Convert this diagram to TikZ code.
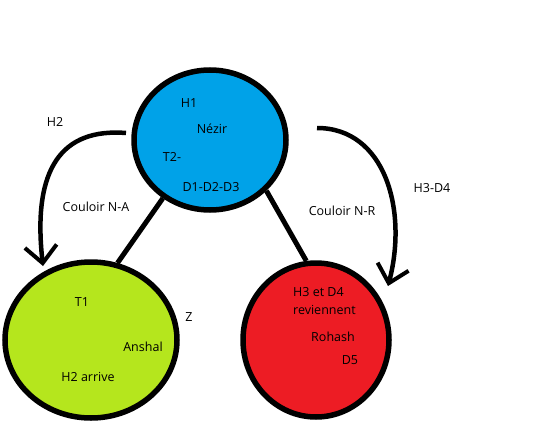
\documentclass[tikz,border=0pt]{standalone}
\usepackage{fontspec}
\setmainfont{Open Sans}
\usetikzlibrary{shapes.geometric,arrows.meta}
\definecolor{pblue}{RGB}{0,162,232}
\definecolor{pgreen}{RGB}{181,230,29}
\definecolor{pred}{RGB}{237,28,36}
\begin{document}
\begin{tikzpicture}[x=1pt,y=-1pt,
  blob/.style={ellipse,draw=black,line width=5.5pt,inner sep=0pt},
  lbl/.style={font=\fontsize{12.5}{14}\selectfont,inner sep=0pt,text=black},
  link/.style={line width=5pt,draw=black},
  arr/.style={line width=4.5pt,draw=black,-{Straight Barb[length=17pt,width=32pt,line width=4pt]}}]
\useasboundingbox[fill=white] (0,0) rectangle (543,428);
% circles
\node[blob,fill=pblue,minimum width=152pt,minimum height=140pt] (nezir) at (210,140) {};
\node[blob,fill=pgreen,minimum width=172pt,minimum height=156pt] (anshal) at (91,340) {};
\node[blob,fill=pred,minimum width=146pt,minimum height=154pt] (rohash) at (316,340) {};
% connecting lines
\draw[link] (nezir.231) -- (anshal.71);
\draw[link] (nezir.318) -- (rohash.97);
% curved arrows
\coordinate (la) at (126,133);
\coordinate (lb) at (43,266);
\coordinate (ra) at (317,128);
\coordinate (rb) at (388,286);
\draw[arr] (la) .. controls (62,128) and (32,168) .. (lb);
\draw[arr] (ra) .. controls (385,128) and (408,210) .. (rb);
% labels
\node[lbl] (t-h2) at (55,122) {H2};
\node[lbl] (t-cna) at (96,207) {Couloir N-A};
\node[lbl] (t-h1) at (189,103) {H1};
\node[lbl] (t-nezir) at (212,129) {Nézir};
\node[lbl] (t-t2) at (172,157) {T2-};
\node[lbl] (t-d123) at (211,187) {D1-D2-D3};
\node[lbl] (t-cnr) at (342,211) {Couloir N-R};
\node[lbl] (t-h3d4) at (432,188) {H3-D4};
\node[lbl] (t-t1) at (82,302) {T1};
\node[lbl] (t-anshal) at (143,347) {Anshal};
\node[lbl] (t-z) at (189,317) {Z};
\node[lbl] (t-h2a) at (88,377) {H2 arrive};
\node[lbl,anchor=west] (t-h3) at (293,292) {H3 et D4};
\node[lbl,anchor=west] (t-rev) at (293,310) {reviennent};
\node[lbl] (t-rohash) at (333,337) {Rohash};
\node[lbl] (t-d5) at (350,360) {D5};
\end{tikzpicture}
\end{document}
